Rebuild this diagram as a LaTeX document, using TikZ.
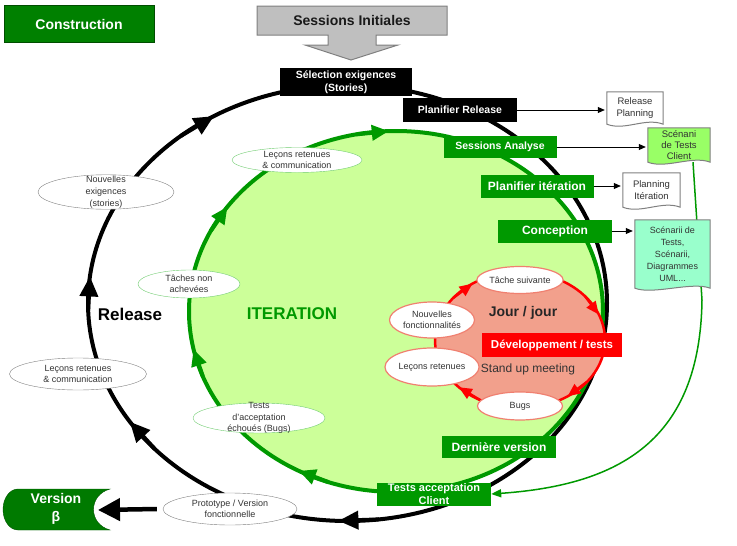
\documentclass[tikz,border=0pt]{standalone}
\usepackage{fontspec}
\setmainfont{Liberation Sans}
\usepackage{tikz}
\usetikzlibrary{positioning, arrows.meta, shapes.geometric, backgrounds}
\definecolor{cGreen}{HTML}{009900}
\definecolor{cCons}{HTML}{008000}
\definecolor{cDark}{HTML}{007A00}
\definecolor{cLight}{HTML}{CCFF99}
\definecolor{cSalmon}{HTML}{F2A08C}
\definecolor{cRed}{HTML}{FF0000}
\definecolor{cPink}{HTML}{F08070}
\definecolor{cGray}{HTML}{BFBFBF}
\definecolor{cGrayLine}{HTML}{808080}
\definecolor{cLeaf}{HTML}{99FF66}
\definecolor{cAqua}{HTML}{99FFCC}
\definecolor{cInk}{HTML}{333333}
\definecolor{cEllGreen}{HTML}{70CC70}
\tikzset{
  gbox/.style={fill=cGreen, text=white, font=\fontsize{12}{13}\selectfont\bfseries,
    inner sep=0pt, minimum height=23pt, minimum width=114pt, align=center},
  kbox/.style={fill=black, text=white, font=\fontsize{10.5}{12.5}\selectfont\bfseries,
    inner sep=0pt, align=center},
  bubble/.style={ellipse, draw, fill=white, text=cInk, font=\fontsize{9}{11.5}\selectfont,
    inner sep=0pt, align=center},
  docbox/.style={text=cInk, font=\fontsize{9.5}{11.5}\selectfont, inner sep=0pt, align=center},
  thinarrow/.style={-{Triangle[length=7pt,width=6pt]}, line width=0.8pt, shorten >=2pt},
}

\begin{document}
\begin{tikzpicture}[x=1pt, y=-1pt]
  \useasboundingbox (0,0) rectangle (737,546);
  % release loop
  \draw[line width=4pt] (347.5,303) ellipse [x radius=259.5, y radius=218];
  \foreach \a in {92,147,187,239}
    \draw[line width=4pt, -{Triangle[length=20pt,width=18pt]}, shift={(347.5,303)}]
      (\a-9:259.5 and 218) -- (\a:259.5 and 218);
  % iteration loop
  \draw[line width=4pt, draw=cGreen, fill=cLight] (396,311.5) ellipse [x radius=207, y radius=180.5];
  \foreach \a in {118,168,215.5,268}
    \draw[line width=4pt, cGreen, -{Triangle[length=17pt,width=15pt]}, shift={(396,311.5)}]
      (\a-9:207 and 180.5) -- (\a:207 and 180.5);
  % daily loop
  \draw[line width=2.5pt, draw=cRed, fill=cSalmon] (520,340) ellipse [x radius=85, y radius=68];
  \foreach \a in {56,136,236,338}
    \draw[line width=2.5pt, cRed, -{Triangle[length=13pt,width=11pt]}, shift={(520,340)}]
      (\a-18:85 and 68) -- (\a:85 and 68);

  \node[gbox, fill=cCons, draw=cCons!60!black, minimum width=150pt, minimum height=37pt,
    font=\fontsize{14}{16}\selectfont\bfseries] (cons) at (79,24) {Construction};
  \draw[draw=cGrayLine, fill=cGray, line width=1pt] (257,6) -- (447,6) -- (447,35) -- (376,35)
    -- (376,45) -- (398,45) -- (351,60) -- (305,45) -- (328,45) -- (328,35) -- (257,35) -- cycle;
  \node[font=\fontsize{14}{16}\selectfont\bfseries, text=black!90] (sinit) at (352,20) {Sessions Initiales};
  \node[kbox, minimum width=132pt, minimum height=28pt] (sel) at (346,82) {Sélection exigences\\(Stories)};
  \node[kbox, minimum width=114pt, minimum height=24pt] (prel) at (460,110) {Planifier Release};

  \node[gbox, font=\fontsize{10.5}{12}\selectfont\bfseries, minimum width=113pt, minimum height=22pt]
    (sana) at (500,147) {Sessions Analyse};
  \node[gbox, minimum width=113pt] (pit) at (537,186) {Planifier itération};
  \node[gbox] (conc) at (555,231) {Conception};
  \node[gbox, minimum height=22pt] (dver) at (499,447) {Dernière version};
  \node[gbox, font=\fontsize{11}{13}\selectfont\bfseries] (tac) at (434,494) {Tests acceptation\\Client};

  \node[font=\fontsize{14}{16}\selectfont\bfseries, text=black!85] (jour) at (523,313) {Jour / jour};
  \node[fill=cRed, text=white, font=\fontsize{11.5}{13}\selectfont\bfseries, minimum width=140pt,
    minimum height=24pt, inner sep=0pt] (dev) at (552,345) {Développement / tests};
  \node[font=\fontsize{12}{14}\selectfont, text=cInk] (stand) at (528,369) {Stand up meeting};
  \node[font=\fontsize{17}{20}\selectfont\bfseries] (rel) at (130,314) {Release};
  \node[font=\fontsize{17}{20}\selectfont\bfseries, text=cGreen] (iter) at (292,314) {ITERATION};

  % daily bubbles
  \node[bubble, draw=cPink, line width=1.2pt, minimum width=85pt, minimum height=27pt] (tsuiv) at (520,280) {Tâche suivante};
  \node[bubble, draw=cPink, line width=1.2pt, minimum width=85pt, minimum height=36pt] (nfonc) at (432,320) {Nouvelles\\fonctionnalités};
  \node[bubble, draw=cPink, line width=1.2pt, minimum width=85pt, minimum height=38pt] (lret) at (432,367) {Leçons retenues};
  \node[bubble, draw=cPink, line width=1.2pt, minimum width=85pt, minimum height=28pt] (bugs) at (520,406) {Bugs};
  % iteration bubbles
  \node[bubble, draw=cEllGreen, minimum width=130pt, minimum height=25pt, inner ysep=-2pt] (lcomm) at (297,160) {Leçons retenues\\\& communication};
  \node[bubble, draw=cEllGreen, minimum width=102pt, minimum height=28pt] (tna) at (189,284) {Tâches non\\achevées};
  \node[bubble, draw=cEllGreen, minimum width=132pt, minimum height=30pt, inner ysep=-5pt] (tko) at (259,418) {Tests\\d'acceptation\\échoués (Bugs)};
  % release bubbles
  \node[bubble, draw=cGrayLine, minimum width=136pt, minimum height=32pt, inner ysep=-4pt,
    font=\fontsize{9}{12}\selectfont] (nexig) at (106,192) {Nouvelles\\exigences\\(stories)};
  \node[bubble, draw=cGrayLine, minimum width=137pt, minimum height=32pt] (lcomm2) at (78,374) {Leçons retenues\\\& communication};
  \node[bubble, draw=cGrayLine, minimum width=134pt, minimum height=32pt] (proto) at (230,509) {Prototype / Version\\fonctionnelle};

  % version beta
  \path[fill=cDark, draw=cDark!70!black] (110,489) -- (18,489)
    arc[start angle=270, end angle=90, x radius=15, y radius=20.5] -- (110,530)
    .. controls (88,524) and (88,495) .. (110,489) -- cycle;
  \node[font=\fontsize{14}{18}\selectfont\bfseries, text=white, align=center] (vers) at (56,509) {Version\\β};
  \coordinate (vtip) at (98,510);
  \draw[line width=4.5pt, -{Triangle[length=22pt,width=22pt]}] ([xshift=-6pt]proto.west) -- (vtip);

  % documents
  \node[docbox, minimum width=56pt, minimum height=32pt] (relplan) at (635,108) {Release\\Planning};
  \node[docbox, minimum width=62pt, minimum height=34pt, font=\fontsize{9.5}{11}\selectfont] (scenc) at (679,145) {Scénani\\de Tests\\Client};
  \node[docbox, minimum width=57pt, minimum height=34pt] (planit) at (651.5,190) {Planning\\Itération};
  \node[docbox, minimum width=75pt, minimum height=68pt, font=\fontsize{9}{12}\selectfont] (scenall) at (672.5,254) {Scénarii de\\Tests,\\Scénarii,\\Diagrammes\\UML...};
  \begin{scope}[on background layer]
    \draw[line width=1.5pt, cGreen, -{Triangle[length=10pt,width=8pt]}] ([xshift=14pt]scenc.south)
      -- (702,300) .. controls (700,440) and (620,485) .. (tac.east);
    \foreach \d/\c in {relplan/white, scenc/cLeaf, planit/white, scenall/cAqua}
      \draw[draw=cGrayLine, fill=\c, line width=1pt] (\d.north west) -- (\d.north east) -- (\d.south east)
        .. controls ([shift={(-18,-7)}]\d.south east) and ([shift={(18,7)}]\d.south west) .. (\d.south west) -- cycle;
  \end{scope}

  \draw[thinarrow] (prel.east) -- (prel.east -| relplan.west);
  \draw[thinarrow] (sana.east) -- (sana.east -| scenc.west);
  \draw[thinarrow] (pit.east) -- (pit.east -| planit.west);
  \draw[thinarrow] (conc.east) -- (conc.east -| scenall.west);
\end{tikzpicture}
\end{document}
